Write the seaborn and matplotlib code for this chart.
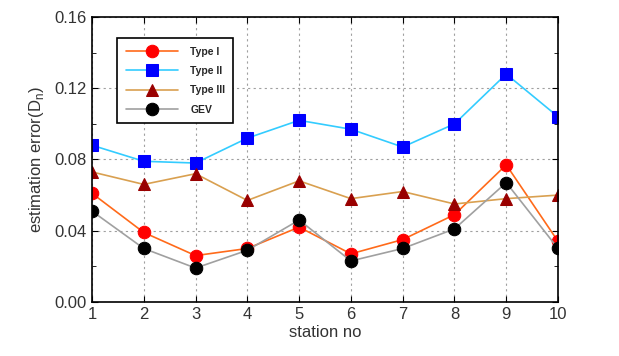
import seaborn as sns
import matplotlib
matplotlib.use("Agg")
import matplotlib.pyplot as plt
from matplotlib.ticker import MultipleLocator
import pandas as pd

stations = [1, 2, 3, 4, 5, 6, 7, 8, 9, 10]
type1 = [0.061, 0.039, 0.026, 0.030, 0.042, 0.027, 0.035, 0.049, 0.077, 0.034]
type2 = [0.088, 0.079, 0.078, 0.092, 0.102, 0.097, 0.087, 0.100, 0.128, 0.104]
type3 = [0.073, 0.066, 0.072, 0.057, 0.068, 0.058, 0.062, 0.055, 0.058, 0.060]
gev = [0.051, 0.030, 0.019, 0.029, 0.046, 0.023, 0.030, 0.041, 0.067, 0.030]

series = [
    ("Type I", type1, "#FF6A1A", "o", "#FF0000"),
    ("Type II", type2, "#33CCFF", "s", "#0000FF"),
    ("Type III", type3, "#D9A050", "^", "#990000"),
    ("GEV", gev, "#A0A0A0", "o", "#000000"),
]

sns.set_style("ticks")
plt.rcParams['font.family'] = ['Liberation Sans', 'DejaVu Sans']

fig = plt.figure(figsize=(6.19, 3.56), dpi=100)
ax = fig.add_axes([0.1486, 0.152, 0.7529, 0.800])

for name, vals, lc, mk, mc in series:
    df = pd.DataFrame({'station': stations, 'err': vals})
    sns.lineplot(data=df, x='station', y='err', ax=ax, color=lc, lw=1.2,
                 marker=mk, markersize=9 if mk != "^" else 8,
                 markerfacecolor=mc, markeredgecolor=mc, label=name)

ax.set_xlim(1, 10)
ax.set_ylim(0, 0.16)
ax.set_xticks(stations)
ax.yaxis.set_major_locator(MultipleLocator(0.04))
ax.yaxis.set_minor_locator(MultipleLocator(0.02))
ax.yaxis.set_major_formatter(plt.FormatStrFormatter('%.2f'))
ax.tick_params(which='both', direction='in', top=True, right=True, labelsize=12,
               colors='black', labelcolor='#333333')
ax.tick_params(which='major', length=4, pad=4)
ax.tick_params(which='minor', length=3)
ax.grid(True, which='major', color='#A0A0A0', linestyle=(0, (2, 3)), lw=0.8)
for s in ax.spines.values():
    s.set_color('black')
    s.set_linewidth(1.2)

ax.set_xlabel('station no', fontsize=12, labelpad=2, color='#333333')
ax.set_ylabel(r'estimation error(D$_\mathregular{n}$)', fontsize=12, labelpad=6, color='#333333')

leg = ax.legend(loc='upper left', bbox_to_anchor=(0.043, 0.944), fancybox=False,
                framealpha=1, edgecolor='black', prop={'weight': 'bold', 'size': 7.5},
                handlelength=5, labelspacing=0.9, borderpad=0.8, handletextpad=1.2)
leg.get_frame().set_linewidth(1.2)

fig.savefig('out.png', dpi=100)
